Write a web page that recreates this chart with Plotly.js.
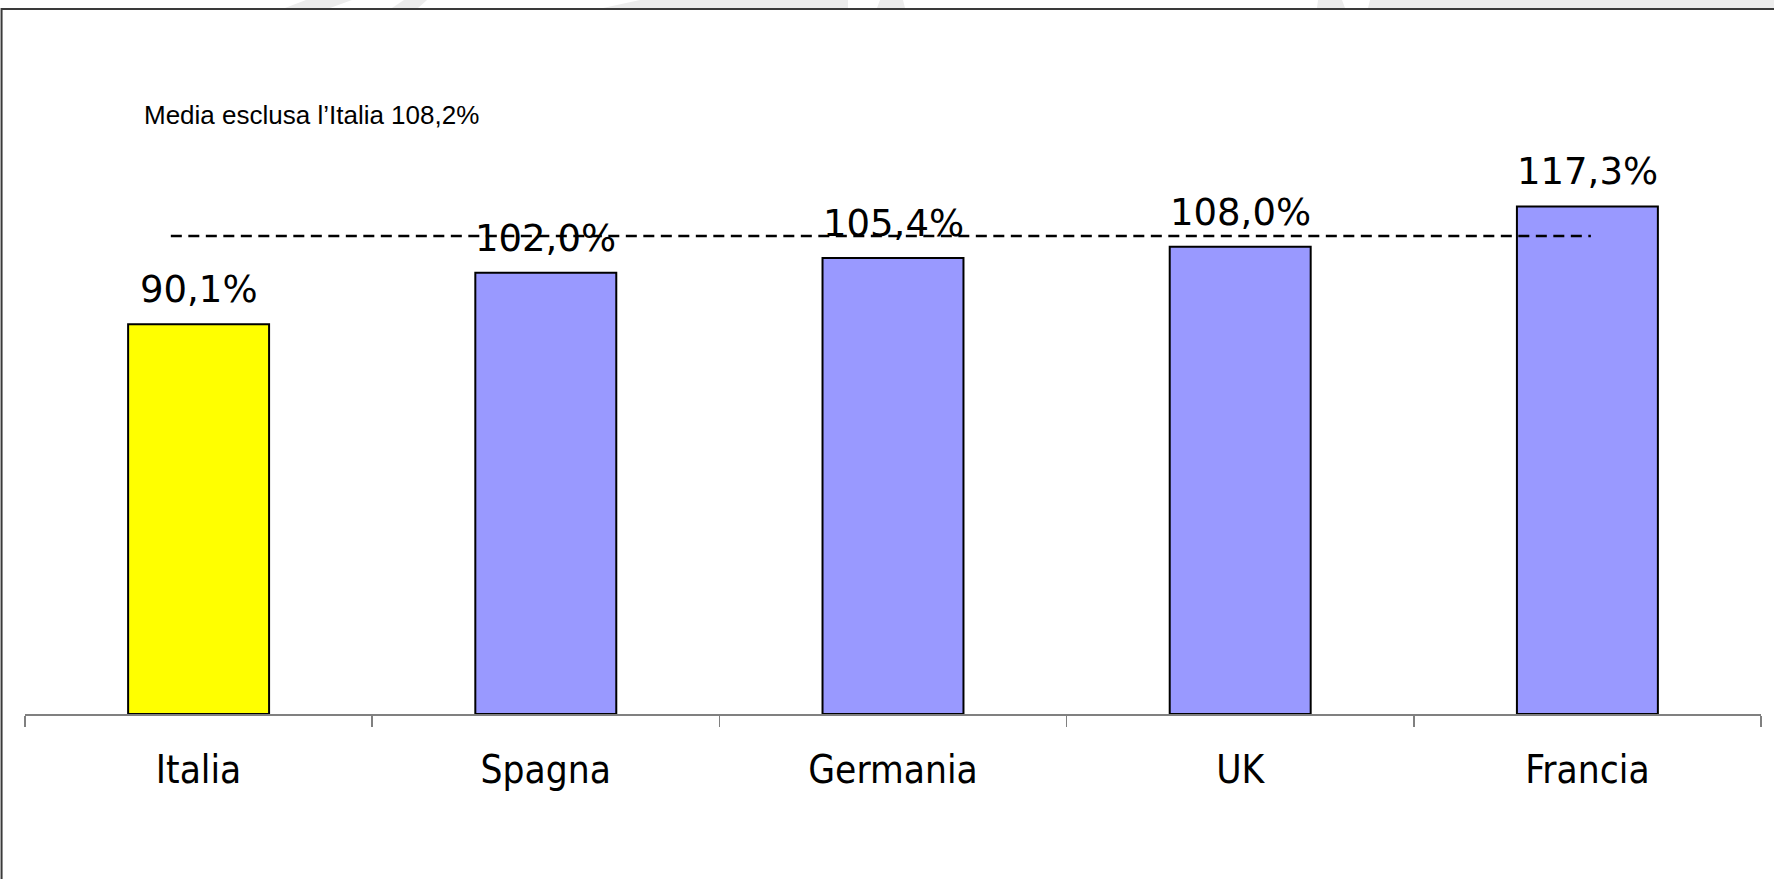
<!DOCTYPE html>
<html>
<head>
<meta charset="utf-8">
<script src="https://cdn.plot.ly/plotly-3.0.1.min.js"></script>
<style>
  html, body { margin: 0; padding: 0; background: #ffffff; }
  #chart { width: 1774px; height: 879px; }
</style>
</head>
<body>
<div id="chart"></div>
<script>
// ---- Data ----
const categories = ["Italia", "Spagna", "Germania", "UK", "Francia"];
const values = [90.1, 102.0, 105.4, 108.0, 117.3];
const valueLabels = ["90,1%", "102,0%", "105,4%", "108,0%", "117,3%"];
const barColors = ["#FFFF00", "#9999FF", "#9999FF", "#9999FF", "#9999FF"];
const mediaText = "Media esclusa l\u2019Italia 108,2%";
const mediaLineLevel = [110.5];   // level of the dashed reference line as drawn

const labelFont = { family: "DejaVu Sans, Verdana, sans-serif", size: 37, color: "#000000" };

const trace = {
  type: "bar",
  x: categories,
  y: values,
  width: 0.406,
  marker: { color: barColors, line: { color: "#000000", width: 2 } },
  hoverinfo: "none",
  showlegend: false
};

const valueAnnotations = categories.map((c, i) => ({
  x: c, y: values[i], xref: "x", yref: "y",
  text: valueLabels[i], showarrow: false,
  xanchor: "center", yanchor: "bottom", yshift: 11,
  font: labelFont
}));

// faint decorative watermark fragments above the frame (pixel polygons -> paper coords)
const L = 25, PW = 1736, AX = 714, PH = 649;
function px2paper(pts) {
  return "M" + pts.map(p => ((p[0] - L) / PW).toFixed(5) + "," + ((AX - p[1]) / PH).toFixed(5)).join(" L") + " Z";
}
const wm = [
  [[285, 8], [330, 8], [352, 0], [306, 0]],
  [[392, 8], [418, 8], [427, 0], [404, 0]],
  [[603, 8], [848, 8], [848, 0], [640, 0]],
  [[877, 8], [905, 8], [903, 0], [880, 0]],
  [[1317, 8], [1345, 8], [1342, 0], [1318, 0]],
  [[1368, 8], [1774, 8], [1774, 0], [1370, 0]]
].map(pts => ({
  type: "path", xref: "paper", yref: "paper", path: px2paper(pts),
  fillcolor: "#ececec", line: { width: 0 }, layer: "below"
}));

const layout = {
  width: 1774, height: 879,
  margin: { l: 25, r: 13, t: 65, b: 165 },
  paper_bgcolor: "#ffffff", plot_bgcolor: "#ffffff",
  showlegend: false,
  xaxis: {
    type: "category",
    range: [-0.5, categories.length - 0.5],
    showline: true, linecolor: "#808080", linewidth: 1.5,
    ticks: "outside", tickson: "boundaries", ticklen: 11, tickcolor: "#808080", tickwidth: 1.5,
    ticklabelstandoff: 21,
    tickfont: { family: "DejaVu Sans Condensed, DejaVu Sans, Verdana, sans-serif", size: 38.5, color: "#000000" },
    showgrid: false, zeroline: false, fixedrange: true
  },
  yaxis: {
    range: [0, 150], visible: false, showgrid: false, zeroline: false, fixedrange: true
  },
  shapes: wm.concat([
    { type: "line", xref: "x", yref: "y", x0: -0.08, x1: 4.01, y0: mediaLineLevel[0], y1: mediaLineLevel[0],
      line: { color: "#000000", width: 2.5, dash: "11px,6.5px" }, layer: "above" },
    { type: "rect", xref: "paper", yref: "paper", x0: -0.0135, x1: 1.2, y0: -0.5, y1: 1.0863,
      line: { color: "#3a3a3a", width: 2 }, fillcolor: "rgba(0,0,0,0)", layer: "above" }
  ]),
  annotations: [
    { xref: "paper", yref: "paper", x: 0.0675, y: 0.9225, xanchor: "left", yanchor: "middle",
      text: mediaText, showarrow: false,
      font: { family: "Liberation Sans, Arial, sans-serif", size: 26, color: "#000000" } }
  ].concat(valueAnnotations)
};

Plotly.newPlot("chart", [trace], layout, { displayModeBar: false, staticPlot: true });
</script>
</body>
</html>
